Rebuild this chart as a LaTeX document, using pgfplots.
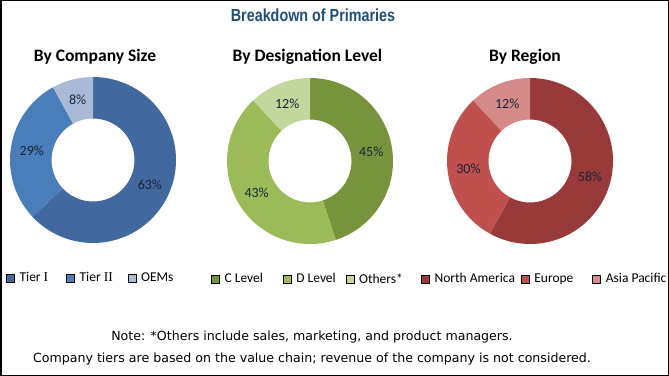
\documentclass[border=0pt]{standalone}
\usepackage{pgfplots}
\usepackage{pgfplotstable}
\pgfplotsset{compat=1.18}
\usepackage{fontspec}
\setmainfont{Carlito}
\newfontfamily\titlefont[FakeStretch=0.82]{Liberation Sans}
\newfontfamily\notefont{DejaVu Sans}
\newfontfamily\serifI{Liberation Serif}

\definecolor{tierA}{HTML}{41699F}
\definecolor{tierB}{HTML}{4A7EBB}
\definecolor{tierC}{HTML}{A9B9D6}
\definecolor{grA}{HTML}{77933C}
\definecolor{grB}{HTML}{9BBB59}
\definecolor{grC}{HTML}{C3D69B}
\definecolor{rdA}{HTML}{993A3A}
\definecolor{rdB}{HTML}{C0504D}
\definecolor{rdC}{HTML}{D38A89}
\definecolor{titleblue}{HTML}{1F4E79}
\definecolor{pcttext}{HTML}{1A2238}

\pgfplotstableread{
label value color
TierI 63 tierA
TierII 29 tierB
OEMs 8 tierC
}\sizetab
\pgfplotstableread{
label value color
CLevel 45 grA
DLevel 43 grB
Others 12 grC
}\desigtab
\pgfplotstableread{
label value color
NorthAmerica 58 rdA
Europe 30 rdB
AsiaPacific 12 rdC
}\regiontab

\newcommand{\donut}[1]{%
  \pgfplotstablegetrowsof{#1}%
  \pgfmathtruncatemacro\nrows{\pgfplotsretval-1}%
  \def\angA{90}%
  \pgfplotsforeachungrouped \i in {0,...,\nrows}{%
    \pgfplotstablegetelem{\i}{value}\of{#1}\let\val\pgfplotsretval
    \pgfplotstablegetelem{\i}{color}\of{#1}\let\col\pgfplotsretval
    \pgfmathsetmacro\angB{\angA-3.6*\val}%
    \pgfmathsetmacro\angM{(\angA+\angB)/2}%
    \edef\temp{%
      \noexpand\fill[\col] (axis cs:{83*cos(\angA)},{83*sin(\angA)})
        arc[start angle=\angA, end angle=\angB, radius=83bp]
        -- (axis cs:{41.5*cos(\angB)},{41.5*sin(\angB)})
        arc[start angle=\angB, end angle=\angA, radius=41.5bp] -- cycle;
      \noexpand\node[font=\noexpand\fontsize{14bp}{16bp}\noexpand\selectfont, text=pcttext]
        at (axis cs:{62*cos(\angM)},{62*sin(\angM)}) {\val\noexpand\%};
    }%
    \temp
    \let\angA\angB
  }%
}

\pgfplotsset{
  donutaxis/.style={
    width=166bp, height=166bp, scale only axis,
    xmin=-83, xmax=83, ymin=-83, ymax=83,
    hide axis, clip=false, anchor=origin,
    legend image code/.code={\fill[##1] (0bp,-4bp) rectangle (8bp,4bp);},
    legend style={draw=none, fill=none, legend columns=-1, overlay,
      font=\fontsize{13.5bp}{15bp}\selectfont, inner sep=0pt,
      /tikz/every odd column/.append style={column sep=3bp},
      anchor=west},
  }
}

\begin{document}
\begin{tikzpicture}
\draw[line width=1.5bp] (0.75bp,0.75bp) rectangle (668.25bp,375.25bp);

\node[font=\titlefont\bfseries\fontsize{17.5bp}{19bp}\selectfont, text=titleblue] at (313bp,361bp) {Breakdown of Primaries};

\node[font=\bfseries\fontsize{17.5bp}{19bp}\selectfont] at (95bp,319bp) {By Company Size};
\node[font=\bfseries\fontsize{17.5bp}{19bp}\selectfont] at (307.5bp,319bp) {By Designation Level};
\node[font=\bfseries\fontsize{17.5bp}{19bp}\selectfont] at (525bp,319bp) {By Region};

\begin{axis}[donutaxis, at={(93bp,216bp)},
  legend style={at={(axis cs:-87,-118)},
    /tikz/column 2/.style={column sep=16bp},
    /tikz/column 4/.style={column sep=13bp}}]
  \donut{\sizetab}
  \addlegendimage{fill=tierA}\addlegendentry{Tier {\serifI I}}
  \addlegendimage{fill=tierB}\addlegendentry{Tier {\serifI II}}
  \addlegendimage{fill=tierC}\addlegendentry{OEMs}
\end{axis}

\begin{axis}[donutaxis, at={(310bp,215bp)},
  legend style={at={(axis cs:-99,-118)},
    /tikz/column 2/.style={column sep=18bp},
    /tikz/column 4/.style={column sep=8bp}}]
  \donut{\desigtab}
  \addlegendimage{fill=grA}\addlegendentry{C Level}
  \addlegendimage{fill=grB}\addlegendentry{D Level}
  \addlegendimage{fill=grC}\addlegendentry{Others*}
\end{axis}

\begin{axis}[donutaxis, at={(530bp,215bp)},
  legend style={at={(axis cs:-109,-118)},
    /tikz/column 2/.style={column sep=4bp},
    /tikz/column 4/.style={column sep=17bp}}]
  \donut{\regiontab}
  \addlegendimage{fill=rdA}\addlegendentry{North America}
  \addlegendimage{fill=rdB}\addlegendentry{Europe}
  \addlegendimage{fill=rdC}\addlegendentry{Asia Pacific}
\end{axis}

\node[font=\notefont\fontsize{12.6bp}{14bp}\selectfont] at (312bp,39bp) {Note: *Others include sales, marketing, and product managers.};
\node[font=\notefont\fontsize{12.6bp}{14bp}\selectfont] at (312bp,17bp) {Company tiers are based on the value chain; revenue of the company is not considered.};
\end{tikzpicture}
\end{document}
